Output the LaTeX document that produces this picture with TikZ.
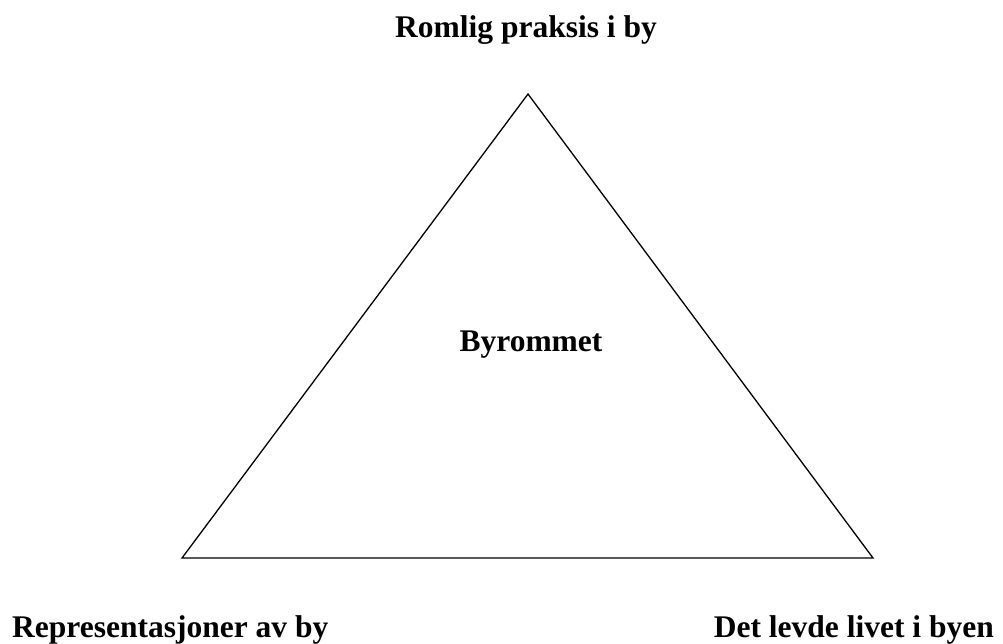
\documentclass[tikz,border=0pt]{standalone}
\usepackage{fontspec}
\setmainfont{Liberation Serif}
\begin{document}
\begin{tikzpicture}[x=1pt,y=-1pt,
  lbl/.style={font=\fontsize{31.5}{36}\selectfont\bfseries, inner sep=0pt},
  edge/.style={draw=black, line width=1.3pt}]
\useasboundingbox (0,0) rectangle (1003,643);
\coordinate (top) at (528,94);
\coordinate (bl) at (182,558);
\coordinate (br) at (873,558);
\draw[edge, line join=miter] (top) -- (bl) -- (br) -- cycle;
\node[lbl, anchor=base] (t) at (526,37) {Romlig praksis i by};
\node[lbl, anchor=base] (c) at (531,351) {Byrommet};
\node[lbl, anchor=base west] (l) at (12,637) {Representasjoner av by};
\node[lbl, anchor=base east] (r) at (994,637) {Det levde livet i byen};
\end{tikzpicture}
\end{document}
